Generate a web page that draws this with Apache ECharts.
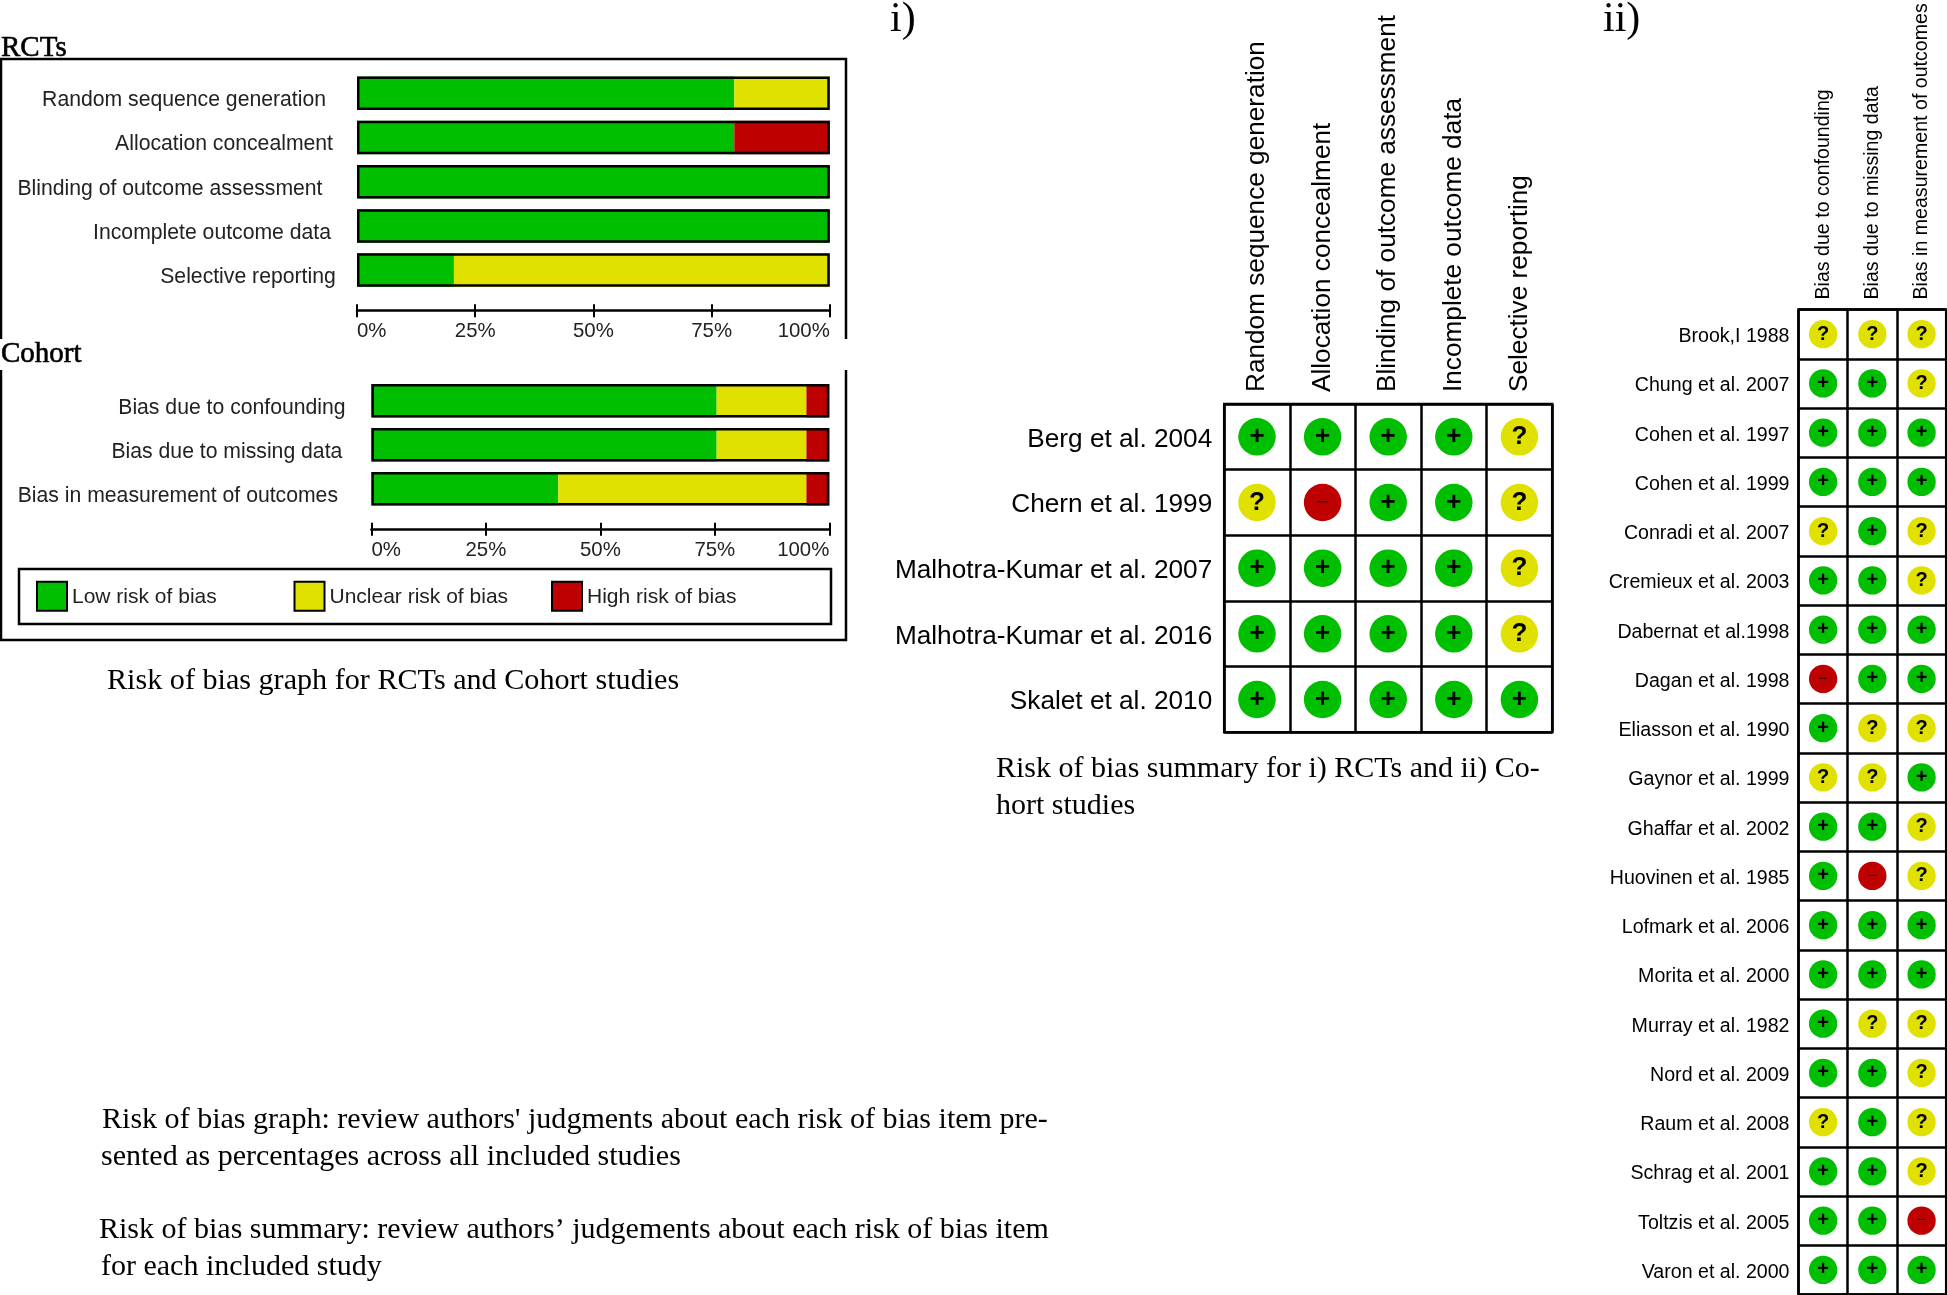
<!DOCTYPE html>
<html><head><meta charset="utf-8">
<style>html,body{margin:0;padding:0;background:#fff}#c{width:1947px;height:1295px}</style>
<script src="https://cdn.jsdelivr.net/npm/echarts@6/dist/echarts.min.js"></script>
</head><body><div id="c"></div>
<script>
// ---------- data ----------
const rctDomains = ['Random sequence generation','Allocation concealment','Blinding of outcome assessment','Incomplete outcome data','Selective reporting'];
const rctLow     = [79.8, 79.8, 100, 100, 20.5];
const rctUnclear = [20.2, 0, 0, 0, 79.5];
const rctHigh    = [0, 20.2, 0, 0, 0];

const cohortDomains = ['Bias due to confounding','Bias due to missing data','Bias in measurement of outcomes'];
const cohortLow     = [75.4, 75.4, 40.8];
const cohortUnclear = [19.6, 19.6, 54.2];
const cohortHigh    = [5, 5, 5];

const pctTicks = ['0%','25%','50%','75%','100%'];

const rctStudies = ['Berg et al. 2004','Chern et al. 1999','Malhotra-Kumar et al. 2007','Malhotra-Kumar et al. 2016','Skalet et al. 2010'];
const rctJudgements = ['LLLLU','UHLLU','LLLLU','LLLLU','LLLLL'];

const cohortStudies = ['Brook,I 1988','Chung et al. 2007','Cohen et al. 1997','Cohen et al. 1999','Conradi et al. 2007','Cremieux et al. 2003','Dabernat et al.1998','Dagan et al. 1998','Eliasson et al. 1990','Gaynor et al. 1999','Ghaffar et al. 2002','Huovinen et al. 1985','Lofmark et al. 2006','Morita et al. 2000','Murray et al. 1982','Nord et al. 2009','Raum et al. 2008','Schrag et al. 2001','Toltzis et al. 2005','Varon et al. 2000'];
const cohortJudgements = ['UUU','LLU','LLL','LLL','ULU','LLU','LLL','HLL','LUU','UUL','LLU','LHU','LLL','LLL','LUU','LLU','ULU','LLU','LLH','LLL'];

const levelNames = {L:'Low risk of bias', U:'Unclear risk of bias', H:'High risk of bias'};
const levelColors = {L:'#00bf00', U:'#e1e100', H:'#bf0000'};
const levelGlyphs = {L:'+', U:'?', H:'\u2212'};

// ---------- layout / styling (not data) ----------
const SANS = '"Liberation Sans", Arial, sans-serif';
const SERIF = '"Liberation Serif", serif';
const rctLabelPad = [9.7, 2.7, 13.2, 4.7, 0];
const cohortLabelPad = [0, 3.3, 7.6];

const serifTexts = [
  ['RCTs', 1, 48, 29, .6], ['Cohort', 1, 354, 29, .6],
  ['i)', 890, 20, 42, 0], ['ii)', 1603, 20, 42, 0],
  ['Risk of bias graph for RCTs and Cohort studies', 107, 681, 30.15, 0],
  ['Risk of bias summary for i) RCTs and ii) Co-', 996, 769, 30, 0],
  ['hort studies', 996, 806, 30, 0],
  ['Risk of bias graph: review authors\' judgments about each risk of bias item pre-', 102, 1120, 30.05, 0],
  ['sented as percentages across all included studies', 101, 1157, 30, 0],
  ['Risk of bias summary: review authors\u2019 judgements about each risk of bias item', 99, 1230, 30, 0],
  ['for each included study', 101, 1267, 30, 0]
];

const grids = [
  {left:357, width:472.8, top:71.2, height:221},
  {left:371.4, width:457.9, top:378.8, height:132},
  {left:1224.2, width:328, top:404, height:328.3, show:true, borderColor:'#000', borderWidth:2.5},
  {left:1798.5, width:147.7, top:309.5, height:985, show:true, borderColor:'#000', borderWidth:2.5}
];

function pctAxes(gridIndex){
  const common = {type:'value', gridIndex, min:0, max:100, interval:25, position:'bottom', offset:18.5, splitLine:{show:false}};
  return [
    Object.assign({}, common, {
      axisLine:{show:true, lineStyle:{color:'#000', width:2.5}},
      axisTick:{show:true, length:6.5, lineStyle:{color:'#000', width:2}},
      axisLabel:{show:true, margin:11, fontFamily:SANS, fontSize:20.4, color:'#222',
        alignMinLabel:'left', alignMaxLabel:'right',
        formatter:(v)=>pctTicks[v/25]}
    }),
    Object.assign({}, common, {
      axisLine:{show:false},
      axisTick:{show:true, inside:true, length:6.5, lineStyle:{color:'#000', width:2}},
      axisLabel:{show:false}
    })
  ];
}
function domainAxis(gridIndex, cats, pads, margin){
  const rich = {};
  pads.forEach((w,i)=>{ rich['s'+i] = {width:w}; });
  return {type:'category', gridIndex, data:cats, inverse:true,
    axisLine:{show:false}, axisTick:{show:false},
    axisLabel:{interval:0, margin, fontFamily:SANS, fontSize:21.2, color:'#222', padding:[14,0,0,0], rich,
      formatter:(v,i)=>v+'{s'+i+'|}'}};
}
function matrixAxes(gridIndex, cols, rows, font, xMargin, yMargin){
  const line = {show:true, lineStyle:{color:'#000', width:2.5}};
  return {
    x:{type:'category', gridIndex, data:cols, position:'top',
       axisLine:{show:false}, axisTick:{show:false}, splitLine:line,
       axisLabel:{interval:0, rotate:-90, margin:xMargin, fontFamily:SANS, fontSize:font, color:'#000'}},
    y:{type:'category', gridIndex, data:rows, inverse:true,
       axisLine:{show:false}, axisTick:{show:false}, splitLine:line,
       axisLabel:{interval:0, margin:yMargin, padding:[5,0,0,0], fontFamily:SANS, fontSize:font, color:'#000',
         rich:{s:{width:0}}, formatter:(v)=>v+'{s|}'}}
  };
}
function stackSeries(name, key, values, idx, stack){
  return {type:'bar', name, stack, xAxisIndex:idx, yAxisIndex:idx, data:values, barWidth:33.5,
    itemStyle:{color:levelColors[key]}, silent:true, z:2};
}
function outlineSeries(values, idx){
  return {type:'bar', name:'outline'+idx, xAxisIndex:idx, yAxisIndex:idx, data:values.map(()=>100), barWidth:33.5, barGap:'-100%',
    itemStyle:{color:'rgba(0,0,0,0)', borderColor:'#000', borderWidth:2.5}, silent:true, z:3};
}
function matrixSeries(table, xIdx, yIdx, size, glyphFont){
  return Object.keys(levelNames).map(k=>{
    const pts = [];
    table.forEach((row,r)=>row.split('').forEach((c,col)=>{ if(c===k) pts.push([col,r]); }));
    return {type:'scatter', name:levelNames[k], xAxisIndex:xIdx, yAxisIndex:yIdx, data:pts,
      symbol:'circle', symbolSize:size, itemStyle:{color:levelColors[k], opacity:1, borderWidth:0}, silent:true, z:4,
      label:{show:true, position:'inside', formatter:levelGlyphs[k], fontFamily:SANS,
        fontWeight:k==='H'?'normal':'bold', fontSize:k==='H'?glyphFont*0.85:glyphFont, color:k==='H'?'#400':'#000',
        textBorderWidth:0}};
  });
}

const rctAxesX = pctAxes(0), cohortAxesX = pctAxes(1);
const mi = matrixAxes(2, rctDomains, rctStudies, 26.2, 12, 12);
const mii = matrixAxes(3, cohortDomains, cohortStudies, 19.6, 10, 9);

const legendLefts = [36, 293.5, 551];
const legends = ['L','U','H'].map((k,i)=>({
  show:true, data:[levelNames[k]], left:legendLefts[i], top:580.7, padding:0, orient:'horizontal',
  icon:'rect', itemWidth:30, itemHeight:29, itemGap:5, selectedMode:false,
  itemStyle:{color:levelColors[k], borderColor:'#000', borderWidth:2},
  formatter:'{a|{name}}',
  textStyle:{fontFamily:SANS, fontSize:21, color:'#222',
    rich:{a:{fontFamily:SANS, fontSize:21, color:'#222', padding:[3,0,0,0]}}}
}));

const frameStyle = {stroke:'#000', lineWidth:2.5, fill:null};
const graphics = [
  {type:'polyline', shape:{points:[[1,339],[1,59],[846,59],[846,339]]}, style:frameStyle, silent:true},
  {type:'polyline', shape:{points:[[1,370],[1,640],[846,640],[846,370]]}, style:frameStyle, silent:true},
  {type:'rect', shape:{x:19,y:569,width:812,height:55}, style:{stroke:'#000', lineWidth:2.5, fill:null}, silent:true}
].concat(serifTexts.map(t=>({type:'text', x:t[1], y:t[2], silent:true,
  style:{text:t[0], font:t[3]+'px '+SERIF, fill:'#000', textVerticalAlign:'middle', textAlign:'left',
         stroke:t[4]?'#000':null, lineWidth:t[4]}})));

const option = {
  backgroundColor:'#fff', animation:false,
  grid:grids,
  legend:legends,
  graphic:graphics,
  xAxis:[rctAxesX[0], cohortAxesX[0], mi.x, mii.x, rctAxesX[1], cohortAxesX[1]],
  yAxis:[domainAxis(0, rctDomains, rctLabelPad, 21.3), domainAxis(1, cohortDomains, cohortLabelPad, 25.8), mi.y, mii.y,
         {type:'category', gridIndex:0, show:false, data:rctDomains, inverse:true},
         {type:'category', gridIndex:1, show:false, data:cohortDomains, inverse:true}],
  series:[
    stackSeries(levelNames.L,'L',rctLow,0,'r'), stackSeries(levelNames.U,'U',rctUnclear,0,'r'), stackSeries(levelNames.H,'H',rctHigh,0,'r'), outlineSeries(rctLow,0),
    stackSeries(levelNames.L,'L',cohortLow,1,'c'), stackSeries(levelNames.U,'U',cohortUnclear,1,'c'), stackSeries(levelNames.H,'H',cohortHigh,1,'c'), outlineSeries(cohortLow,1),
    ...matrixSeries(rctJudgements, 2, 2, 37.5, 26),
    ...matrixSeries(cohortJudgements, 3, 3, 28.3, 20)
  ]
};
const chart = echarts.init(document.getElementById('c'), null, {renderer:'canvas', width:1947, height:1295});
chart.setOption(option);
</script></body></html>
